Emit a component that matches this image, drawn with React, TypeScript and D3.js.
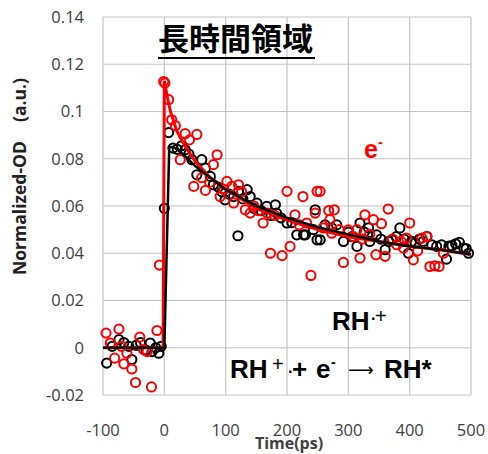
import React from "react";
import * as d3 from "d3";

const xTicks = [-100, 0, 100, 200, 300, 400, 500];
const yTicks = [-0.02, 0, 0.02, 0.04, 0.06, 0.08, 0.1, 0.12, 0.14];
const yTickLabels = ["-0.02", "0", "0.02", "0.04", "0.06", "0.08", "0.1", "0.12", "0.14"];

const blackT = [-94, -85, -74, -66, -58, -53, -46, -39, -30, -23, -20, -14, -9, -5,
  0, 7, 14, 21, 28, 34, 40, 45, 53, 61, 67, 75, 80, 88, 94, 99, 106, 113, 120, 121, 128, 135, 140, 146, 151, 158, 167, 174, 181, 183, 190,
  200, 208, 216, 227, 230, 243, 246, 249, 254, 262, 273, 281, 292, 300, 306, 314, 319, 326, 333, 335, 346, 353, 360, 366, 371, 378, 384,
  391, 398, 403, 409, 416, 422, 428, 436, 444, 452, 460, 464, 469, 475, 481, 488, 492, 496];
const blackV = [-0.0065, 0.0006, 0.0034, 0.0022, 0.0006, -0.005, 0.001, 0.0022, -0.001, 0.002, -0.0016, 0.0, -0.0023, 0.0006,
  0.059, 0.0911, 0.0845, 0.084, 0.0855, 0.0838, 0.082, 0.0796, 0.0732, 0.0796, 0.076, 0.0725, 0.069, 0.068, 0.066, 0.0626, 0.065, 0.064, 0.0474, 0.0662, 0.063, 0.0669, 0.064, 0.059, 0.0612, 0.058, 0.0598, 0.056, 0.0605, 0.057, 0.055,
  0.0528, 0.053, 0.0478, 0.0478, 0.0478, 0.05, 0.0584, 0.0457, 0.0457, 0.052, 0.0507, 0.052, 0.045, 0.049, 0.047, 0.0429, 0.0528, 0.049, 0.0507, 0.045, 0.0478, 0.046, 0.0415, 0.045, 0.0457, 0.047, 0.0507,
  0.046, 0.04, 0.045, 0.0443, 0.046, 0.045, 0.0471, 0.0436, 0.0429, 0.0436, 0.0375, 0.043, 0.0432, 0.044, 0.0446, 0.0422, 0.042, 0.04];

const redT = [-95, -88, -81, -74, -70, -66, -61, -53, -47, -40, -34, -28, -21, -12, -8,
  -1, 1, 7, 12, 18, 26, 34, 41, 48, 53, 61, 67, 74, 80, 86, 91, 97, 102, 110, 113, 121, 126, 132, 140, 146, 153, 161, 168, 173, 180, 192,
  200, 205, 213, 220, 226, 232, 239, 246, 249, 254, 259, 268, 270, 273, 277, 285, 292, 300, 308, 314, 319, 323, 327, 335, 341, 345, 354,
  360, 365, 372, 379, 386, 390, 395, 400, 406, 413, 420, 428, 433, 441, 448, 455];
const redV = [0.0062, 0.002, -0.0044, 0.0079, 0.0006, -0.0068, -0.0023, -0.009, -0.0147, 0.0045, -0.0008, -0.0016, -0.0166, 0.0073, 0.035,
  0.1127, 0.112, 0.105, 0.0965, 0.094, 0.0796, 0.0906, 0.088, 0.0683, 0.0903, 0.072, 0.0666, 0.07, 0.0775, 0.0817, 0.064, 0.067, 0.0704, 0.0683, 0.0613, 0.069, 0.066, 0.0584, 0.057, 0.06, 0.058, 0.0528, 0.057, 0.04, 0.056, 0.039,
  0.0662, 0.0429, 0.0563, 0.052, 0.064, 0.0528, 0.0306, 0.057, 0.0662, 0.0662, 0.0507, 0.0581, 0.0542, 0.0485, 0.0584, 0.05, 0.0361, 0.0499, 0.0471, 0.05, 0.038, 0.046, 0.0563, 0.048, 0.0542, 0.0394, 0.0525,
  0.0387, 0.0587, 0.046, 0.0436, 0.045, 0.0422, 0.0464, 0.0528, 0.0372, 0.041, 0.0464, 0.0471, 0.0344, 0.0347, 0.0344, 0.04];

const redFitT = [-100, -2, 0, 5, 10, 20, 30, 50, 75, 100, 150, 200, 250, 300, 350, 400, 450, 500];
const redFitV = [0, 0, 0.113, 0.106, 0.1, 0.092, 0.087, 0.079, 0.072, 0.067, 0.059, 0.054, 0.05, 0.047, 0.045, 0.043, 0.0415, 0.0395];
const blackFitT = [-100, 0, 8, 15, 30, 50, 75, 100, 150, 200, 250, 300, 350, 400, 450, 500];
const blackFitV = [0, 0, 0.085, 0.085, 0.082, 0.077, 0.072, 0.067, 0.06, 0.055, 0.051, 0.048, 0.045, 0.043, 0.0415, 0.0395];

export default function App() {
  const W = 488, H = 454;
  const x = d3.scaleLinear().domain([-100, 500]).range([103, 471]);
  const y = d3.scaleLinear().domain([-0.02, 0.14]).range([395, 17]);
  const line = d3.line<[number, number]>().x(d => x(d[0])).y(d => y(d[1]));
  const redFit = redFitT.map((t, i) => [t, redFitV[i]] as [number, number]);
  const blackFit = blackFitT.map((t, i) => [t, blackFitV[i]] as [number, number]);
  const tickFont = "'Open Sans', sans-serif";
  const bold = "Arial, 'Liberation Sans', sans-serif";
  return (
    <svg width={W} height={H} style={{ position: "absolute", left: 0, top: 0, background: "#fff" }}>
      {yTicks.map(v => (
        <line key={"gy" + v} x1={x(-100)} x2={x(500)} y1={y(v)} y2={y(v)} stroke="#c4c4c4" strokeWidth={1.2} />
      ))}
      {xTicks.map(v => (
        <line key={"gx" + v} x1={x(v)} x2={x(v)} y1={y(-0.02)} y2={y(0.14)} stroke="#c4c4c4" strokeWidth={1.2} />
      ))}
      {yTicks.map((v, i) => (
        <text key={"ty" + v} x={84} y={y(v)} dy="0.35em" textAnchor="end" fontFamily={tickFont} fontSize={16.5} fill="#404040">{yTickLabels[i]}</text>
      ))}
      {xTicks.map(v => (
        <text key={"tx" + v} x={x(v)} y={436} textAnchor="middle" fontFamily={tickFont} fontSize={16.5} fill="#404040">{v}</text>
      ))}
      <text x={289} y={449} textAnchor="middle" fontFamily={tickFont} fontWeight="bold" fontSize={16} fill="#404040">Time(ps)</text>
      <text transform="translate(26,208) rotate(-90)" textAnchor="middle" fontFamily={tickFont} fontWeight="bold" fontSize={17.5} fill="#222">Normalized-OD</text>
      <text transform="translate(26,100) rotate(-90)" textAnchor="middle" fontFamily={tickFont} fontWeight="bold" fontSize={17.5} fill="#222">(a.u.)</text>

      {blackT.map((t, i) => (
        <circle key={"b" + i} cx={x(t)} cy={y(blackV[i])} r={4.6} fill="none" stroke="#000" strokeWidth={2} />
      ))}
      {redT.map((t, i) => (
        <circle key={"r" + i} cx={x(t)} cy={y(redV[i])} r={4.6} fill="none" stroke="#ff0000" strokeWidth={2} />
      ))}
      <path d={line(redFit) || ""} fill="none" stroke="#ff0000" strokeWidth={3} />
      <path d={line(blackFit) || ""} fill="none" stroke="#000" strokeWidth={2.5} />

      <text x={158} y={50} fontFamily="'Noto Sans CJK JP', sans-serif" fontWeight="bold" fontSize={31} fill="#000">長時間領域</text>
      <line x1={158} x2={315} y1={58} y2={58} stroke="#000" strokeWidth={2} />

      <text x={364} y={158} fontFamily={bold} fontWeight="bold" fontSize={25} fill="#ff0000">e<tspan dy={-11} fontSize={14}>-</tspan></text>

      <text y={330} fontFamily={bold} fontWeight="bold" fontSize={26} fill="#000">
        <tspan x={332}>RH</tspan>
        <tspan x={371} y={324} fontSize={16}>·</tspan>
        <tspan x={375} y={323} fontWeight="normal" fontSize={20}>+</tspan>
      </text>

      <text y={378} fontFamily={bold} fontWeight="bold" fontSize={26} fill="#000">
        <tspan x={230}>RH</tspan>
        <tspan x={272} y={371} fontWeight="normal" fontSize={20}>+</tspan>
        <tspan x={288} y={377} fontSize={16}>·</tspan>
        <tspan x={292} y={378}>+</tspan>
        <tspan x={316} y={378}>e</tspan>
        <tspan x={331} y={367} fontSize={14}>-</tspan>
        <tspan x={348} y={376} fontWeight="normal" fontSize={18} fontFamily="'DejaVu Sans', sans-serif">⟶</tspan>
        <tspan x={384} y={378}>RH*</tspan>
      </text>
    </svg>
  );
}
